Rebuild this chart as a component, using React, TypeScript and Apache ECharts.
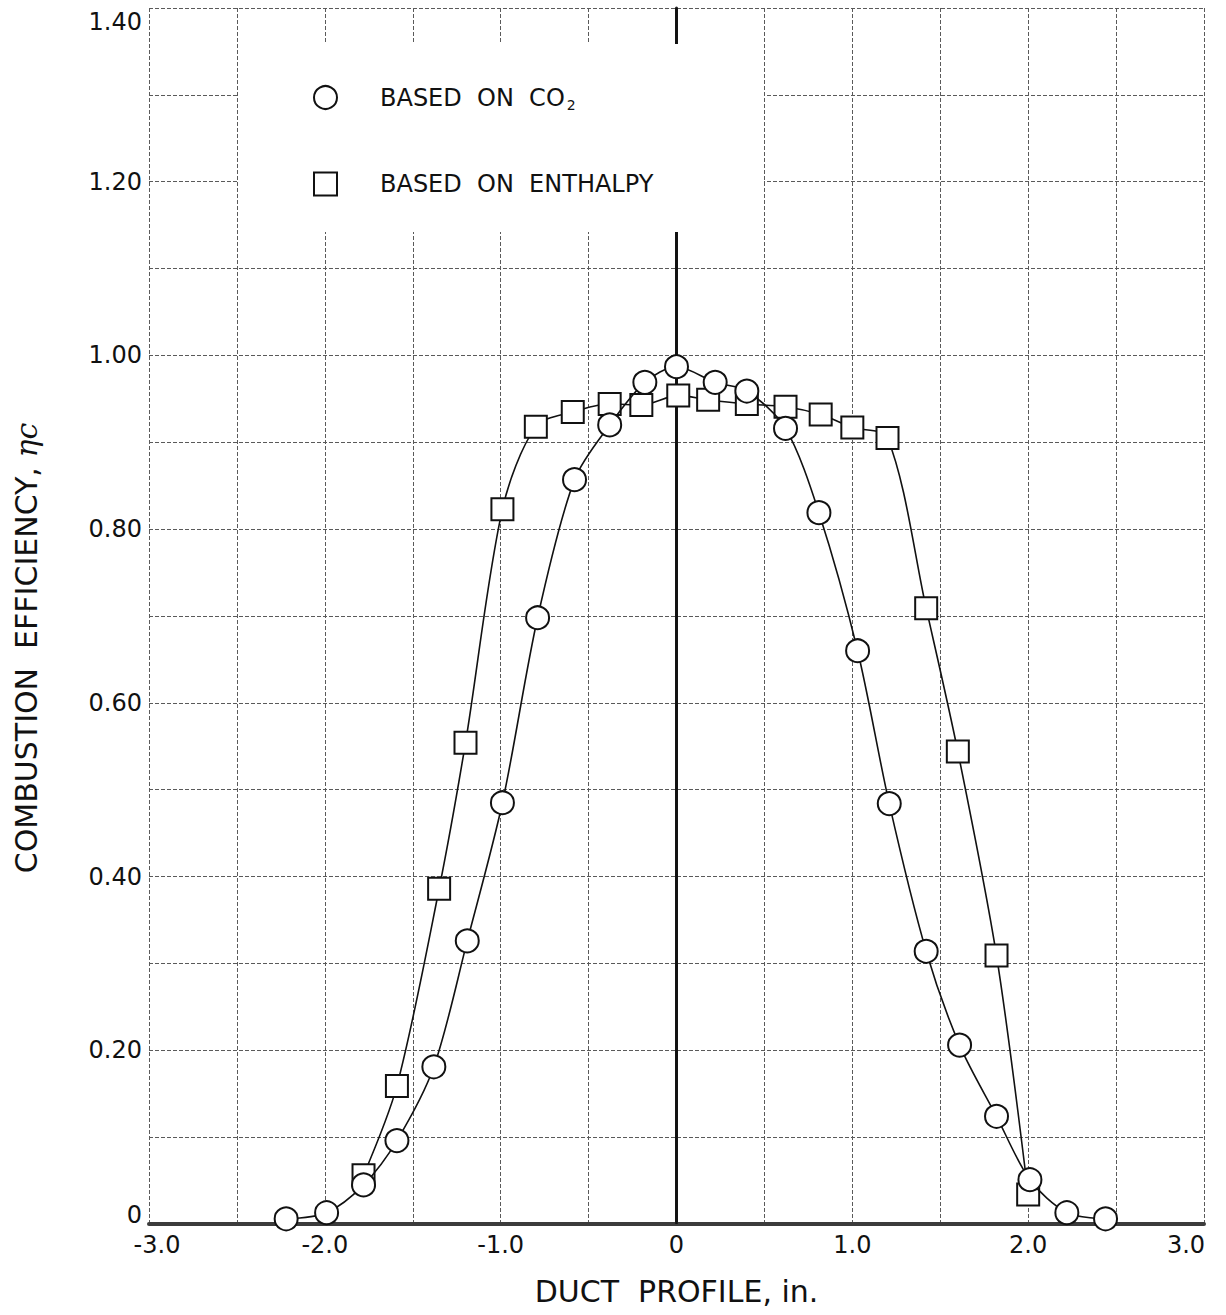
import React, { useEffect, useRef } from "react";
import * as echarts from "echarts";

// Duct profile positions (in.) and combustion efficiency values
const co2X = [-2.22, -1.99, -1.78, -1.59, -1.38, -1.19, -0.99, -0.79, -0.58, -0.38, -0.18, 0.0, 0.22, 0.4, 0.62, 0.81, 1.03, 1.21, 1.42, 1.61, 1.82, 2.01, 2.22, 2.44];
const co2Y = [0.006, 0.013, 0.045, 0.096, 0.181, 0.326, 0.485, 0.698, 0.857, 0.92, 0.969, 0.987, 0.969, 0.959, 0.916, 0.819, 0.66, 0.484, 0.314, 0.206, 0.124, 0.051, 0.013, 0.006];

const enthX = [-1.78, -1.59, -1.35, -1.2, -0.99, -0.8, -0.59, -0.38, -0.2, 0.01, 0.18, 0.4, 0.62, 0.82, 1.0, 1.2, 1.42, 1.6, 1.82, 2.0];
const enthY = [0.056, 0.159, 0.386, 0.554, 0.823, 0.918, 0.935, 0.944, 0.943, 0.954, 0.949, 0.944, 0.941, 0.932, 0.917, 0.905, 0.709, 0.544, 0.309, 0.034];

const seriesNames = ["BASED ON CO2", "BASED ON ENTHALPY"];
const xTitle = "DUCT  PROFILE, in.";
const yTitle = "COMBUSTION  EFFICIENCY, ";

const FONT = "DejaVu Sans";
const INK = "#111";
const GRID = "#5a5a5a";

export default function App() {
  const ref = useRef<HTMLDivElement>(null);

  useEffect(() => {
    if (!ref.current) return;
    const chart = echarts.init(ref.current, null, { renderer: "svg" });

    const gridLine = { color: GRID, width: 1, type: [4, 2] as any };
    const lbl = { fontFamily: FONT, fontSize: 24, color: INK };

    const option: any = {
      animation: false,
      backgroundColor: "#ffffff",
      grid: { left: 149, right: 22, top: 8, bottom: 91, containLabel: false },
      xAxis: {
        type: "value",
        min: -3,
        max: 3,
        interval: 1,
        name: xTitle,
        nameLocation: "middle",
        nameGap: 52,
        nameTextStyle: { fontFamily: FONT, fontSize: 30, color: INK },
        axisLine: { show: true, onZero: false, lineStyle: { color: "#3c3c3c", width: 4 } },
        axisTick: { show: false },
        axisLabel: {
          ...lbl,
          margin: 9,
          formatter: (v: number) => {
            if (v === 0) return "0";
            const s = v.toFixed(1);
            if (v === -3) return "{l|" + s + "}";
            if (v === 3) return "{r|" + s + "}";
            return s;
          },
          rich: {
            l: { ...lbl, padding: [0, 0, 0, 16] },
            r: { ...lbl, padding: [0, 36, 0, 0] },
          },
        },
        splitLine: { show: true, lineStyle: gridLine },
        minorTick: { show: false, splitNumber: 2 },
        minorSplitLine: { show: true, lineStyle: gridLine },
      },
      yAxis: {
        type: "value",
        min: 0,
        max: 1.4,
        interval: 0.2,
        name: yTitle + "{i|ηc}",
        nameLocation: "middle",
        nameGap: 108,
        nameTextStyle: {
          fontFamily: FONT,
          fontSize: 30,
          color: INK,
          padding: [0, 64, 0, 0],
          rich: {
            i: { fontFamily: "DejaVu Serif", fontStyle: "italic", fontSize: 30, color: INK },
          },
        },
        axisLine: { show: true, lineStyle: { color: "#222", width: 3 } },
        axisTick: { show: false },
        axisLabel: {
          ...lbl,
          margin: 7,
          formatter: (v: number) => {
            if (v === 0) return "{b|0}";
            const s = v.toFixed(2);
            return Math.abs(v - 1.4) < 1e-9 ? "{t|" + s + "}" : s;
          },
          rich: {
            t: { ...lbl, padding: [27, 0, 0, 0] },
            b: { ...lbl, padding: [0, 0, 18, 0] },
          },
        },
        splitLine: { show: true, lineStyle: gridLine },
        minorTick: { show: false, splitNumber: 2 },
        minorSplitLine: { show: true, lineStyle: gridLine },
      },
      legend: {
        orient: "vertical",
        left: 308,
        top: 80,
        itemWidth: 23,
        itemHeight: 23,
        itemGap: 60,
        z: 6,
        selectedMode: false,
        data: [
          { name: seriesNames[0], icon: "circle" },
          { name: seriesNames[1], icon: "rect" },
        ],
        formatter: (name: string) =>
          name === seriesNames[0] ? "{a|BASED  ON  CO}{s|2}" : "{a|BASED  ON  ENTHALPY}",
        textStyle: {
          padding: [0, 0, 0, 38],
          rich: {
            a: { fontFamily: FONT, fontSize: 24, color: INK, lineHeight: 28 },
            s: { fontFamily: FONT, fontSize: 14, color: INK, verticalAlign: "bottom", padding: [0, 0, 0, 2] },
          },
        },
      },
      graphic: [
        {
          type: "rect",
          z: 5,
          silent: true,
          shape: { x: 238, y: 44, width: 526, height: 188 },
          style: { fill: "#ffffff" },
        },
      ],
      series: [
        {
          name: seriesNames[0],
          type: "line",
          data: co2X.map((x, i) => [x, co2Y[i]]),
          smooth: 0.3,
          symbol: "circle",
          symbolSize: 23,
          z: 3,
          lineStyle: { color: INK, width: 1.6 },
          itemStyle: { color: "#ffffff", borderColor: INK, borderWidth: 2 },
          markLine: {
            z: 1,
            silent: true,
            symbol: ["none", "none"],
            label: { show: false },
            lineStyle: { color: INK, width: 2.5, type: "solid" },
            data: [{ xAxis: 0 }],
          },
        },
        {
          name: seriesNames[1],
          type: "line",
          data: enthX.map((x, i) => [x, enthY[i]]),
          smooth: 0.3,
          symbol: "rect",
          symbolSize: 22,
          z: 2,
          lineStyle: { color: INK, width: 1.6 },
          itemStyle: { color: "#ffffff", borderColor: INK, borderWidth: 2 },
        },
      ],
    };

    chart.setOption(option);
    return () => chart.dispose();
  }, []);

  return (
    <div
      ref={ref}
      style={{ position: "absolute", left: 0, top: 0, width: 1226, height: 1315, background: "#fff" }}
    />
  );
}
